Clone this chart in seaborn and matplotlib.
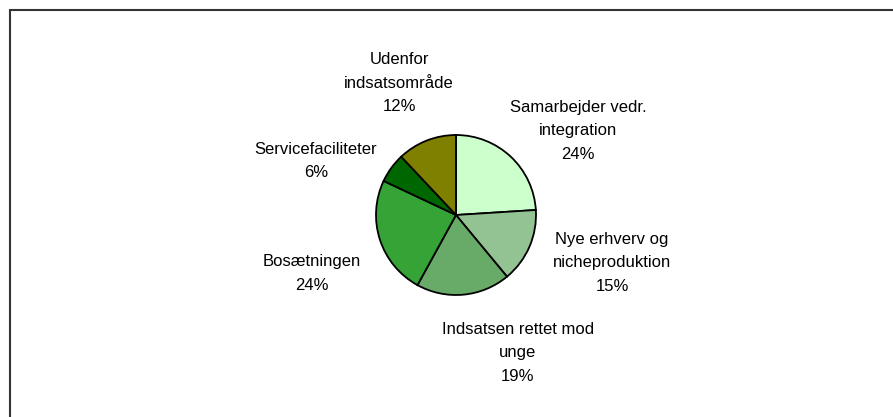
import matplotlib
matplotlib.use("Agg")
import matplotlib.pyplot as plt
from matplotlib.patches import Rectangle
import seaborn as sns

# data (clockwise from 12 o'clock)
labels = ["Samarbejder vedr.\nintegration", "Nye erhverv og\nnicheproduktion",
          "Indsatsen rettet mod\nunge", "Bosætningen", "Servicefaciliteter",
          "Udenfor\nindsatsområde"]
shares = [24, 15, 19, 24, 6, 12]
colors = ["#ccffcc", "#93c393", "#68ab68", "#36a336", "#006600", "#808000"]

# label block centres, in units of pie radius (Excel-style placement)
label_xy = [(1.525, 1.05), (1.95, -0.6), (0.775, -1.725),
            (-1.8, -0.73), (-1.75, 0.675), (-0.71, 1.65)]

sns.set_theme(style="white")
plt.rcParams['font.family'] = ['Liberation Sans', 'DejaVu Sans']

W, H = 893, 417
fig = plt.figure(figsize=(W / 100, H / 100), dpi=100)
ax = fig.add_axes([0, 0, 1, 1])

ax.pie(shares, colors=colors, startangle=90, counterclock=False,
       wedgeprops=dict(edgecolor="black", linewidth=1.3))

# pie centre at (456, 215) px from top-left, radius 80 px
cx, cy, r = 456, 215, 80
ax.set_xlim(-cx / r, (W - cx) / r)
ax.set_ylim(-(H - cy) / r, cy / r)
ax.set_aspect('auto')
ax.axis('off')

for lab, val, (x, y) in zip(labels, shares, label_xy):
    ax.text(x, y, f"{lab}\n{val}%", ha="center", va="center",
            fontsize=12, color="black", linespacing=1.7, multialignment="center")

# chart border (right and bottom edges fall outside the image)
fig.patches.append(Rectangle((10 / W, -0.1), 2, 1 - 10 / H + 0.1,
                             transform=fig.transFigure, fill=False,
                             edgecolor="#333333", linewidth=1.5))

fig.savefig("out.png", dpi=100, facecolor="white")
